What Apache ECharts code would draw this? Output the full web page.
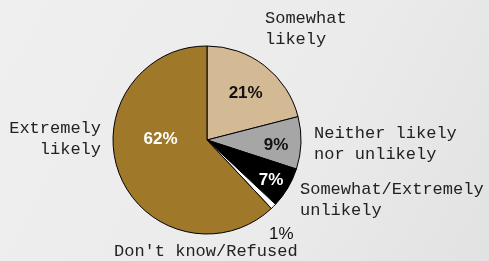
<!DOCTYPE html>
<html>
<head>
<meta charset="utf-8">
<script src="https://cdn.jsdelivr.net/npm/echarts@6/dist/echarts.min.js"></script>
<style>
  html, body { margin: 0; padding: 0; }
  #chart { width: 489px; height: 261px; }
</style>
</head>
<body>
<div id="chart"></div>
<script>
// slices, clockwise from 12 o'clock
const categories = ['Somewhat likely', 'Neither likely nor unlikely', 'Somewhat/Extremely unlikely', "Don't know/Refused", 'Extremely likely']
const values = [21, 9, 7, 1, 62]
const sliceColors = ['#d4ba94', '#a6a6a6', '#000000', '#ffffff', '#a0782a']
const valueColors = ['#111111', '#111111', '#ffffff', '#111111', '#ffffff']
// nudges for the percent labels so they sit where the original had them
const labelOffsets = [[8, -7], [19, 4], [21, 15], [39, 59], [0, -19]]

const nameFont = '"Liberation Mono", "DejaVu Sans Mono", monospace'

const chart = echarts.init(document.getElementById('chart'))

const option = {
  backgroundColor: {
    type: 'linear', x: 0, y: 0, x2: 1, y2: 1,
    colorStops: [
      { offset: 0, color: '#efefef' },
      { offset: 0.6, color: '#ebebeb' },
      { offset: 1, color: '#e2e2e2' }
    ]
  },
  animation: false,
  series: [{
    type: 'pie',
    center: [207, 140],
    radius: [0, 94],
    startAngle: 90,
    clockwise: true,
    avoidLabelOverlap: false,
    itemStyle: { borderColor: '#000', borderWidth: 1 },
    labelLine: { show: false },
    label: {
      show: true,
      position: 'inside',
      formatter: '{c}%',
      fontFamily: 'Liberation Sans, Arial, sans-serif',
      fontWeight: 'bold',
      fontSize: 17
    },
    data: categories.map((name, i) => ({
      name,
      value: values[i],
      itemStyle: { color: sliceColors[i] },
      label: {
        color: valueColors[i],
        offset: labelOffsets[i],
        fontWeight: i === 3 ? 'normal' : 'bold'
      }
    }))
  }],
  graphic: [
    { type: 'text', left: 265, top: 8, style: { text: 'Somewhat\nlikely', font: '17px ' + nameFont, fill: '#222', lineHeight: 21 } },
    { type: 'text', left: 314, top: 123, style: { text: 'Neither likely\nnor unlikely', font: '17px ' + nameFont, fill: '#222', lineHeight: 21 } },
    { type: 'text', left: 300, top: 179, style: { text: 'Somewhat/Extremely\nunlikely', font: '17px ' + nameFont, fill: '#222', lineHeight: 21 } },
    { type: 'text', left: 114, top: 243, style: { text: "Don't know/Refused", font: '17px ' + nameFont, fill: '#222' } },
    { type: 'text', right: 388, top: 120, style: { text: 'Extremely', font: '17px ' + nameFont, fill: '#222' } },
    { type: 'text', right: 388, top: 141, style: { text: 'likely', font: '17px ' + nameFont, fill: '#222' } }
  ]
}

chart.setOption(option)
</script>
</body>
</html>
